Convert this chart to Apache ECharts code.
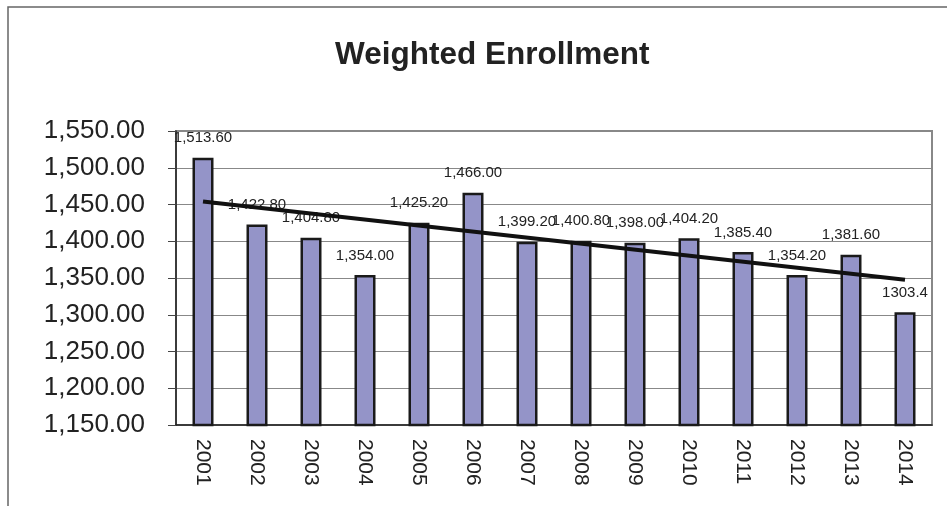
<!DOCTYPE html>
<html>
<head>
<meta charset="utf-8">
<title>Weighted Enrollment</title>
<script src="https://cdn.jsdelivr.net/npm/echarts@6/dist/echarts.min.js"></script>
<style>
  html, body { margin: 0; padding: 0; background: #fff; }
  #chart { width: 947px; height: 506px; }
</style>
</head>
<body>
<div id="chart"></div>
<script>
// values
const years = ['2001', '2002', '2003', '2004', '2005', '2006', '2007', '2008', '2009', '2010', '2011', '2012', '2013', '2014'];
const enrollment = [1513.6, 1422.8, 1404.8, 1354.0, 1425.2, 1466.0, 1399.2, 1400.8, 1398.0, 1404.2, 1385.4, 1354.2, 1381.6, 1303.4];
const barLabels = ['1,513.60', '1,422.80', '1,404.80', '1,354.00', '1,425.20', '1,466.00', '1,399.20', '1,400.80', '1,398.00', '1,404.20', '1,385.40', '1,354.20', '1,381.60', '1303.4'];
// trend line end points (first and last year)
const trendEnds = [1454.2, 1347.7];

const font = "'Liberation Sans', Arial, sans-serif";

const myChart = echarts.init(document.getElementById('chart'));

const option = {
  backgroundColor: '#fff',
  animation: false,
  title: {
    text: 'Weighted Enrollment',
    left: 330,
    top: 34,
    textStyle: {
      fontFamily: font,
      fontSize: 31.5,
      fontWeight: 'bold',
      color: '#222'
    }
  },
  graphic: [
    {
      type: 'rect',
      shape: { x: 8, y: 7, width: 980, height: 560 },
      style: { fill: 'none', stroke: '#666', lineWidth: 1.5 },
      silent: true
    }
  ],
  grid: {
    left: 176,
    right: 15,
    top: 131,
    bottom: 81,
    show: true,
    backgroundColor: '#fff',
    borderColor: '#888',
    borderWidth: 2
  },
  xAxis: {
    type: 'category',
    data: years,
    axisLine: { lineStyle: { color: '#222', width: 1.5 } },
    axisTick: { length: 7, lineStyle: { color: '#666' } },
    axisLabel: {
      rotate: -90,
      margin: 14,
      fontFamily: font,
      fontSize: 21,
      color: '#222'
    }
  },
  yAxis: {
    type: 'value',
    min: 1150,
    max: 1550,
    interval: 50,
    axisLine: { show: true, lineStyle: { color: '#222', width: 1.5 } },
    axisTick: { show: true, length: 8, lineStyle: { color: '#444' } },
    splitLine: { lineStyle: { color: '#888', width: 1 } },
    axisLabel: {
      margin: 31,
      fontFamily: font,
      fontSize: 26,
      color: '#222',
      formatter: function (v) {
        return v.toLocaleString('en-US', { minimumFractionDigits: 2, maximumFractionDigits: 2 });
      }
    }
  },
  series: [
    {
      type: 'bar',
      data: enrollment,
      barWidth: 21,
      itemStyle: {
        color: '#9494c8',
        borderColor: '#1a1a1a',
        borderWidth: 2.5
      },
      label: {
        show: true,
        position: 'top',
        distance: 12,
        fontFamily: font,
        fontSize: 15,
        color: '#222',
        formatter: function (p) {
          return barLabels[p.dataIndex];
        }
      }
    },
    {
      type: 'line',
      data: [[0, trendEnds[0]], [years.length - 1, trendEnds[1]]],
      symbol: 'none',
      lineStyle: { color: '#111', width: 4 },
      z: 5
    }
  ]
};

myChart.setOption(option);
</script>
</body>
</html>
